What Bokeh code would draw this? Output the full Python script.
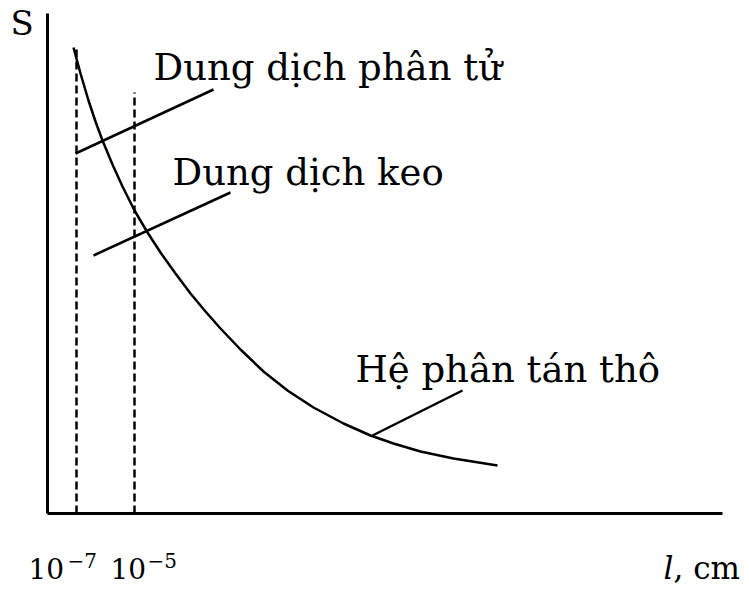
from bokeh.plotting import figure
from bokeh.models import Range1d
from bokeh.core.properties import value
from bokeh.embed import file_html
from bokeh.resources import INLINE

# Schematic dependence of specific surface S on particle size l (arbitrary units)
curve_l = [26, 33, 41, 48, 55, 65, 75, 87, 100, 113, 128, 143, 158, 173,
           193, 216, 240, 266, 296, 323, 346, 373, 406, 450]
curve_s = [466, 440, 413, 392, 373, 349, 327, 303, 281, 261, 240, 220, 202, 185,
           164, 142, 123, 106, 90, 78, 70, 62, 55, 48]

# Boundaries between the dispersion classes (10^-7 cm and 10^-5 cm)
bound_l = [29, 87]
bound_top = [466, 421]
bound_exp = ["\u22127", "\u22125"]

# Region names with their leader lines (start -> end)
region_names = ["Dung d\u1ecbch ph\u00e2n t\u1eed", "Dung d\u1ecbch keo", "H\u1ec7 ph\u00e2n t\u00e1n th\u00f4"]
name_l = [106, 125, 308]
name_s = [446, 341, 144]
lead_l0 = [28, 46, 325]
lead_s0 = [360, 258, 78]
lead_l1 = [166, 183, 415]
lead_s1 = [424, 321, 123]

axis_l_max = 675
axis_s_max = 500

FONT = "DejaVu Serif"

p = figure(width=749, height=592, x_range=Range1d(-47, 702), y_range=Range1d(-79, 513),
           output_backend="svg", toolbar_location=None,
           x_axis_location=None, y_axis_location=None,
           min_border=0, min_border_left=0, min_border_right=0,
           min_border_top=0, min_border_bottom=0)
p.grid.visible = False
p.outline_line_color = None
p.background_fill_color = "white"
p.border_fill_color = "white"

# Axes drawn as plain lines
p.line(x=[0, 0], y=[0, axis_s_max], line_color="black", line_width=3)
p.line(x=[0, axis_l_max], y=[0, 0], line_color="black", line_width=3)

# Dashed boundaries
p.segment(x0=bound_l, y0=[0, 0], x1=bound_l, y1=bound_top,
          line_color="black", line_width=2.5, line_dash="8 4")

# Curve
p.line(x=curve_l, y=curve_s, line_color="black", line_width=2.5, line_join="round")

# Leader lines
p.segment(x0=lead_l0, y0=lead_s0, x1=lead_l1, y1=lead_s1,
          line_color="black", line_width=2.5)

# Region names
p.text(x=name_l, y=name_s, text=region_names, text_font=value(FONT),
       text_font_size="37px", text_color="black",
       text_align="left", text_baseline="alphabetic")

# Axis titles
p.text(x=[-37], y=[491], text=["S"], text_font=value(FONT), text_font_size="34px",
       text_color="black", text_align="left", text_baseline="alphabetic")
p.text(x=[616], y=[-54], text=["l"], text_font=value(FONT), text_font_size="31px",
       text_font_style="italic", text_color="black",
       text_align="left", text_baseline="alphabetic")
p.text(x=[626], y=[-54], text=[", cm"], text_font=value(FONT), text_font_size="31px",
       text_color="black", text_align="left", text_baseline="alphabetic")

# Boundary tick labels 10^-7 and 10^-5
p.text(x=[-19, 63], y=[-55, -55], text=["10", "10"], text_font=value(FONT),
       text_font_size="28px", text_color="black",
       text_align="left", text_baseline="alphabetic")
p.text(x=[20, 100], y=[-47, -47], text=bound_exp, text_font=value(FONT),
       text_font_size="20px", text_color="black",
       text_align="left", text_baseline="alphabetic")

open("out.html", "w").write(file_html(p, INLINE))
